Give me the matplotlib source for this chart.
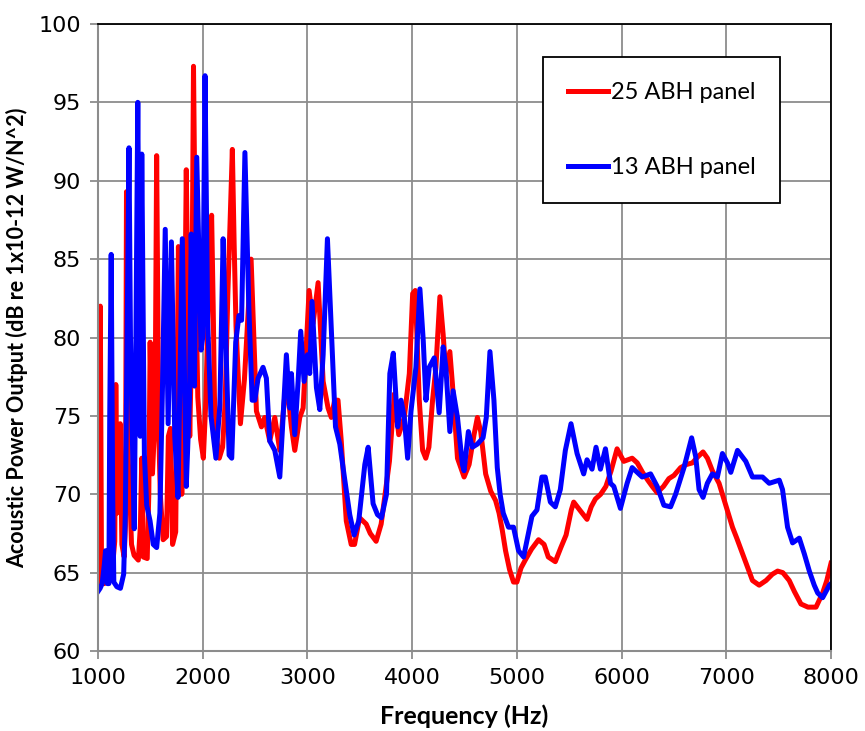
import matplotlib
matplotlib.use("Agg")
from matplotlib import pyplot as plt

# 25 ABH panel (red)
freq_25 = [1000, 1012, 1022, 1034, 1060, 1100, 1140, 1160, 1170, 1182, 1198, 1212, 1228, 1250, 1262,
           1272, 1290, 1304, 1320, 1345, 1385, 1405, 1418, 1432, 1470, 1485, 1498, 1520, 1545, 1560,
           1580, 1595, 1622, 1654, 1672, 1692, 1712, 1742, 1768, 1786, 1800, 1820, 1843, 1862, 1876,
           1895, 1912, 1930, 1953, 1980, 2006, 2030, 2047, 2085, 2100, 2112, 2135, 2158, 2190, 2215,
           2240, 2283, 2300, 2318, 2360, 2398, 2462, 2513, 2561, 2592, 2640, 2688, 2736, 2799, 2847,
           2879, 2927, 2959, 3016, 3054, 3102, 3150, 3197, 3228, 3260, 3292, 3323, 3371, 3418, 3450,
           3498, 3561, 3600, 3656, 3704, 3783, 3830, 3872, 3925, 3973, 4005, 4030, 4068, 4100, 4130,
           4160, 4195, 4227, 4265, 4296, 4322, 4360, 4385, 4433, 4496, 4544, 4591, 4623, 4655, 4702,
           4750, 4797, 4830, 4861, 4892, 4930, 4968, 5000, 5040, 5080, 5140, 5207, 5260, 5300, 5367,
           5420, 5470, 5520, 5543, 5600, 5670, 5710, 5750, 5800, 5850, 5900, 5957, 6021, 6101, 6150,
           6200, 6250, 6293, 6340, 6400, 6452, 6500, 6564, 6620, 6676, 6730, 6778, 6820, 6867, 6931,
           7000, 7059, 7100, 7150, 7200, 7250, 7314, 7380, 7440, 7490, 7540, 7601, 7650, 7713, 7780,
           7857, 7920, 7960, 8000]
power_25 = [64.0, 64.5, 82.0, 64.5, 64.3, 64.8, 65.5, 67.0, 77.0, 68.8, 70.0, 74.5, 66.8, 66.0, 68.0,
            89.3, 72.0, 70.0, 66.8, 66.1, 65.8, 68.0, 72.3, 66.0, 65.9, 70.0, 79.7, 71.3, 75.0, 91.6,
            74.0, 70.0, 67.1, 67.3, 73.7, 74.2, 66.8, 67.6, 85.8, 73.7, 70.0, 75.0, 90.7, 80.0, 73.7,
            80.0, 97.3, 85.0, 76.2, 73.5, 72.3, 76.0, 80.6, 87.8, 82.0, 76.2, 73.5, 72.3, 73.0, 76.0,
            82.8, 92.0, 86.0, 80.7, 74.5, 77.3, 85.0, 75.3, 74.3, 74.9, 73.4, 74.9, 72.8, 77.4, 74.3,
            72.8, 74.9, 75.5, 83.0, 80.9, 83.5, 77.2, 75.5, 74.9, 76.0, 76.0, 73.4, 68.3, 66.8, 66.8,
            68.5, 68.1, 67.5, 67.0, 68.1, 72.1, 76.4, 73.8, 74.9, 77.7, 82.8, 83.0, 76.0, 72.8, 72.3,
            73.0, 76.0, 78.1, 82.6, 80.2, 77.7, 79.1, 77.0, 72.3, 71.1, 71.9, 73.8, 74.9, 74.0, 71.3,
            70.2, 69.6, 68.8, 67.7, 66.4, 65.2, 64.4, 64.4, 65.3, 65.8, 66.5, 67.1, 66.8, 66.0, 65.7,
            66.6, 67.4, 69.0, 69.5, 69.0, 68.4, 69.2, 69.7, 70.0, 70.5, 71.5, 72.9, 72.1, 72.3, 72.0,
            71.4, 70.9, 70.5, 70.1, 70.5, 71.0, 71.2, 71.7, 71.9, 72.0, 72.4, 72.7, 72.3, 71.5, 70.7,
            69.2, 67.9, 67.2, 66.3, 65.4, 64.5, 64.2, 64.5, 64.9, 65.1, 65.0, 64.5, 63.8, 63.0, 62.8,
            62.8, 63.7, 64.5, 65.6]

# 13 ABH panel (blue)
freq_13 = [1000, 1020, 1040, 1060, 1072, 1090, 1104, 1112, 1126, 1140, 1151, 1180, 1214, 1245, 1261,
           1275, 1296, 1310, 1324, 1346, 1362, 1380, 1395, 1403, 1418, 1443, 1465, 1497, 1528, 1560,
           1591, 1616, 1642, 1670, 1701, 1733, 1764, 1805, 1843, 1874, 1890, 1921, 1943, 1984, 2000,
           2022, 2047, 2079, 2126, 2164, 2195, 2220, 2252, 2277, 2315, 2346, 2371, 2403, 2440, 2472,
           2497, 2529, 2576, 2608, 2640, 2688, 2736, 2760, 2799, 2831, 2847, 2879, 2911, 2936, 2968,
           3000, 3022, 3044, 3086, 3118, 3150, 3191, 3229, 3268, 3309, 3357, 3404, 3446, 3490, 3548,
           3580, 3627, 3669, 3707, 3755, 3787, 3820, 3862, 3894, 3925, 3957, 3989, 4036, 4074, 4106,
           4132, 4163, 4211, 4258, 4296, 4322, 4360, 4391, 4433, 4480, 4496, 4537, 4575, 4623, 4677,
           4708, 4743, 4781, 4813, 4840, 4870, 4920, 4968, 5016, 5064, 5110, 5144, 5192, 5239, 5271,
           5320, 5367, 5415, 5463, 5517, 5575, 5638, 5670, 5718, 5756, 5798, 5846, 5894, 5926, 5989,
           6053, 6101, 6197, 6277, 6340, 6404, 6468, 6516, 6596, 6669, 6708, 6740, 6778, 6819, 6867,
           6915, 6963, 7011, 7043, 7107, 7186, 7250, 7346, 7410, 7506, 7537, 7585, 7633, 7697, 7745,
           7793, 7840, 7873, 7920, 7984, 8000]
power_13 = [63.8, 64.0, 64.3, 65.5, 66.4, 64.3, 64.3, 75.0, 85.3, 70.0, 64.4, 64.1, 64.0, 64.9, 68.8,
            78.0, 92.1, 80.0, 75.0, 67.8, 80.0, 95.0, 80.0, 73.7, 91.7, 72.5, 69.3, 68.3, 66.8, 66.6,
            68.8, 76.9, 86.9, 74.5, 86.1, 73.7, 69.8, 86.3, 70.5, 76.2, 86.6, 76.9, 91.5, 79.2, 80.0,
            96.7, 81.1, 75.0, 72.3, 75.7, 86.3, 79.9, 72.5, 72.3, 79.7, 81.4, 81.1, 91.8, 82.0, 76.0,
            76.0, 77.4, 78.1, 77.4, 73.4, 72.8, 71.1, 74.0, 78.9, 75.5, 77.7, 73.8, 77.2, 80.4, 77.2,
            78.9, 77.7, 82.3, 76.8, 75.4, 78.9, 86.3, 80.4, 74.3, 73.2, 70.9, 68.7, 67.4, 68.3, 71.9,
            73.0, 69.4, 68.7, 68.5, 70.0, 77.7, 79.0, 74.3, 76.0, 74.9, 72.3, 75.3, 78.1, 83.1, 79.8,
            76.0, 78.1, 78.7, 75.2, 79.4, 78.1, 74.0, 76.6, 74.9, 71.9, 71.5, 74.0, 73.0, 73.2, 73.6,
            74.9, 79.1, 76.0, 71.7, 70.0, 68.8, 67.9, 67.9, 66.4, 66.0, 67.5, 68.6, 69.0, 71.1, 71.1,
            69.5, 69.2, 70.3, 72.8, 74.5, 72.6, 71.3, 72.2, 71.6, 73.0, 71.6, 72.9, 70.7, 70.5, 69.1,
            70.7, 71.7, 71.1, 71.3, 70.5, 69.3, 69.2, 70.0, 71.7, 73.6, 72.4, 70.3, 69.8, 70.7, 71.3,
            71.1, 72.6, 72.0, 71.4, 72.8, 72.1, 71.1, 71.1, 70.7, 70.9, 70.3, 67.9, 66.9, 67.2, 66.2,
            65.1, 64.2, 63.7, 63.4, 64.2, 64.3]

x_ticks = [1000, 2000, 3000, 4000, 5000, 6000, 7000, 8000]
y_ticks = [60, 65, 70, 75, 80, 85, 90, 95, 100]

fig = plt.figure(figsize=(8.65, 7.31), dpi=100)
ax = fig.add_axes([0.1133, 0.1094, 0.8474, 0.8578])

ax.plot(freq_25, power_25, color='#ff0000', lw=3.6, label='25 ABH panel', solid_joinstyle='round')
ax.plot(freq_13, power_13, color='#0000ff', lw=3.6, label='13 ABH panel', solid_joinstyle='round')

ax.set_xlim(1000, 8000)
ax.set_ylim(60, 100)
ax.set_xticks(x_ticks)
ax.set_yticks(y_ticks)
ax.grid(True, color='#8c8c8c', lw=1.3)
ax.set_axisbelow(True)
ax.tick_params(axis='both', labelsize=16, direction='out', length=6, width=1.3, color='#8c8c8c', pad=6)

for side in ['left', 'bottom']:
    ax.spines[side].set_color('#8c8c8c')
    ax.spines[side].set_linewidth(1.5)
for side in ['top', 'right']:
    ax.spines[side].set_color('black')
    ax.spines[side].set_linewidth(1.3)

ax.set_xlabel('Frequency (Hz)', fontsize=18, fontweight='bold', family='Lato', labelpad=12)
ax.set_ylabel('Acoustic Power Output (dB re 1x10-12 W/N^2)', fontsize=15.5, fontweight='bold',
              family='Lato', labelpad=12)
ax.yaxis.set_label_coords(-0.095, 0.5)

leg = ax.legend(loc='upper left', bbox_to_anchor=(0.607, 0.947), frameon=True, fancybox=False,
                edgecolor='black', prop={'family': 'Lato', 'size': 17}, handlelength=1.7,
                handletextpad=0.12, labelspacing=2.3, borderpad=1.05, borderaxespad=0)
leg.get_frame().set_linewidth(1.3)
leg.get_frame().set_alpha(1)

fig.savefig('out.png', dpi=100)
